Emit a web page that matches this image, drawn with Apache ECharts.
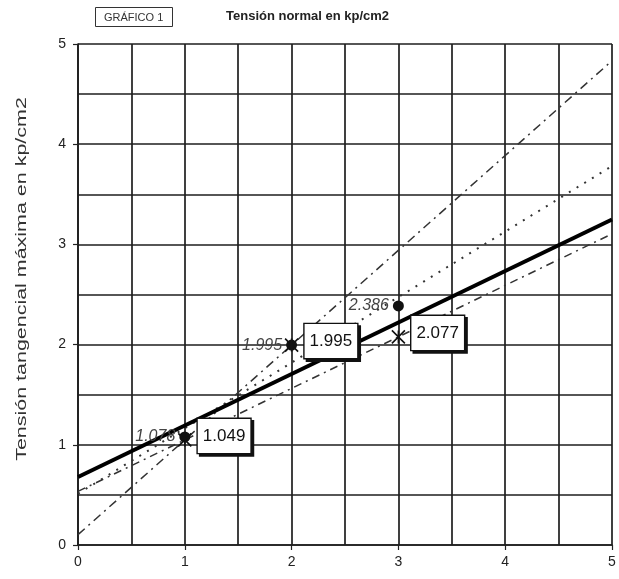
<!DOCTYPE html>
<html>
<head>
<meta charset="utf-8">
<script src="https://cdn.jsdelivr.net/npm/echarts@6/dist/echarts.min.js"></script>
<style>
  html, body { margin: 0; padding: 0; background: #fff; }
  #chart { width: 619px; height: 579px; }
</style>
</head>
<body>
<div id="chart"></div>
<script>
// Normal stress (x) and max shear stress (y), kp/cm2
const xValues = [1, 2, 3];
const seriesA = [1.049, 1.995, 2.077];   // boxed labels, star markers
const seriesB = [1.078, 1.995, 2.386];   // circle markers
const xTicks = [0, 1, 2, 3, 4, 5];
const yTicks = [0, 1, 2, 3, 4, 5];

// Straight lines, given by their end points at x = 0 and x = 5
const fitA = [[0, 0.679], [5, 3.249]];     // least squares through seriesA
const fitB = [[0, 0.512], [5, 3.782]];     // least squares through seriesB
const chordA12 = [[0, 0.103], [5, 4.833]]; // through points 1 and 2 of seriesA
const chordA13 = [[0, 0.535], [5, 3.105]]; // through points 1 and 3 of seriesA

const font = 'Liberation Sans, Arial, sans-serif';
const pairs = (ys) => xValues.map((x, i) => [x, ys[i]]);
const gridLine = { color: '#1e1e1e', width: 1.7 };

const chart = echarts.init(document.getElementById('chart'));
chart.setOption({
  animation: false,
  backgroundColor: '#fff',
  title: [
    {
      text: 'GRÁFICO 1',
      left: 95, top: 7,
      padding: [5, 9, 4, 9],
      borderColor: '#333', borderWidth: 1,
      textStyle: { fontFamily: font, fontSize: 11, fontWeight: 'normal', color: '#333' }
    },
    {
      text: 'Tensión normal en kp/cm2',
      left: 226, top: 10, padding: 0,
      textStyle: { fontFamily: font, fontSize: 13, fontWeight: 'bold', color: '#222' }
    }
  ],
  // vertical axis title, drawn wide-set along its length
  graphic: [
    {
      type: 'text', x: 22, y: 279, rotation: Math.PI / 2, scaleX: 1.43, scaleY: 1,
      style: {
        text: 'Tensión tangencial máxima en kp/cm2',
        fontFamily: font, fontSize: 15, fill: '#333',
        align: 'center', verticalAlign: 'middle'
      }
    }
  ],
  grid: { left: 78, right: 7, top: 44, bottom: 34, containLabel: false },
  xAxis: {
    type: 'value', min: 0, max: 5, interval: 1,
    axisLine: { show: true, lineStyle: { color: '#1e1e1e', width: 1.7 } },
    axisTick: { show: true, length: 5, lineStyle: { color: '#222', width: 1.2 } },
    axisLabel: {
      fontFamily: font, fontSize: 14, color: '#222', margin: 10,
      formatter: (v) => xTicks.includes(v) ? String(v) : ''
    },
    splitLine: { show: true, lineStyle: gridLine },
    minorTick: { show: false, splitNumber: 2 },
    minorSplitLine: { show: true, lineStyle: gridLine }
  },
  yAxis: {
    type: 'value', min: 0, max: 5, interval: 1,
    axisLine: { show: true, lineStyle: { color: '#1e1e1e', width: 1.7 } },
    axisTick: { show: true, length: 5, lineStyle: { color: '#222', width: 1.2 } },
    axisLabel: {
      fontFamily: font, fontSize: 14, color: '#222', margin: 12,
      formatter: (v) => yTicks.includes(v) ? String(v) : ''
    },
    splitLine: { show: true, lineStyle: gridLine },
    minorTick: { show: false, splitNumber: 2 },
    minorSplitLine: { show: true, lineStyle: gridLine }
  },
  series: [
    {
      type: 'line', data: chordA12, showSymbol: false, silent: true, z: 3,
      lineStyle: { color: '#333', width: 1.5, type: [9, 5, 2, 5] }
    },
    {
      type: 'line', data: chordA13, showSymbol: false, silent: true, z: 3,
      lineStyle: { color: '#333', width: 1.5, type: [8, 5, 2, 5] }
    },
    {
      type: 'line', data: fitB, showSymbol: false, silent: true, z: 3,
      lineStyle: { color: '#333', width: 2, type: [2, 7] }
    },
    {
      type: 'line', data: fitA, showSymbol: false, silent: true, z: 4,
      lineStyle: { color: '#000', width: 4 }
    },
    {
      type: 'scatter', data: pairs(seriesB), z: 5,
      symbol: 'circle', symbolSize: 11,
      itemStyle: { color: '#111', opacity: 1 },
      label: {
        show: true, position: 'left', distance: 4,
        fontFamily: font, fontSize: 16, fontStyle: 'italic', color: '#444',
        formatter: (p) => p.value[1].toFixed(3)
      }
    },
    {
      type: 'scatter', data: pairs(seriesA), z: 6,
      symbol: 'path://M0,0L10,10M10,0L0,10M5,0L5,10', symbolSize: 13,
      itemStyle: { color: 'none', borderColor: '#111', borderWidth: 1.6, opacity: 1 },
      label: {
        show: true, position: 'right', distance: 4, offset: [0, -4],
        fontFamily: font, fontSize: 17, color: '#111',
        backgroundColor: '#fff', borderColor: '#111', borderWidth: 1.4,
        padding: [9, 5, 8, 5],
        shadowColor: '#111', shadowOffsetX: 2.5, shadowOffsetY: 2.5, shadowBlur: 0,
        formatter: (p) => p.value[1].toFixed(3)
      }
    }
  ]
});
</script>
</body>
</html>
